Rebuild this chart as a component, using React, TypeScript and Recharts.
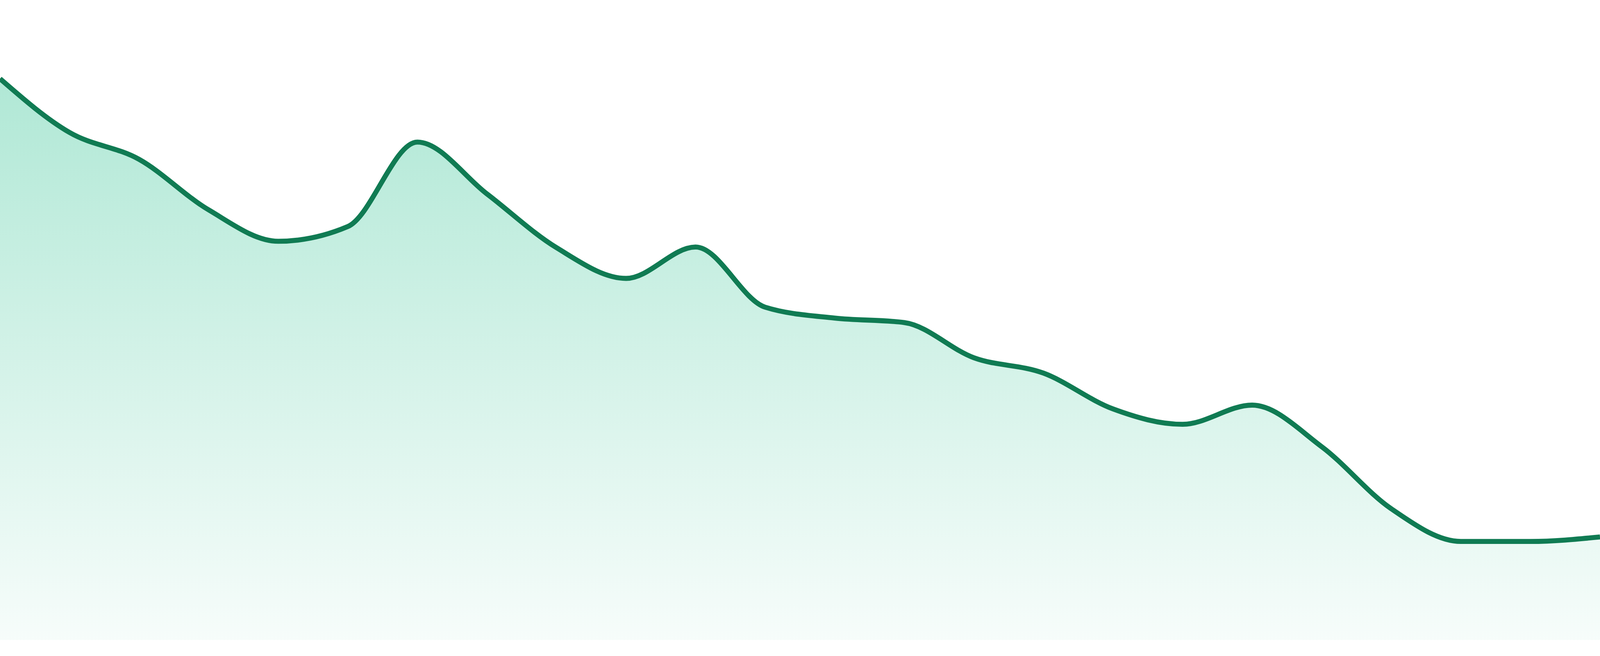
import { AreaChart, Area, XAxis, YAxis } from "recharts";

// 24 evenly spaced samples, values on a 0-100 scale
const points = [
  "p01", "p02", "p03", "p04", "p05", "p06", "p07", "p08",
  "p09", "p10", "p11", "p12", "p13", "p14", "p15", "p16",
  "p17", "p18", "p19", "p20", "p21", "p22", "p23", "p24",
];
const values = [
  87.7, 79.3, 75.1, 67.2, 62.3, 64.6, 77.8, 69.7,
  61.3, 56.5, 61.4, 52.0, 50.3, 49.6, 44.1, 41.7,
  36.1, 33.7, 36.7, 30.2, 20.5, 15.4, 15.4, 16.1,
];

const data = points.map((p, i) => ({ p, v: values[i] }));

// the chart fills the visible page; sizes below are given for a 4800px wide frame
const W = Math.round(window.innerWidth || 4800);
const H = Math.round(window.innerHeight || 1680);
const k = W / 4800;

export default function App() {
  return (
    <div style={{ width: W, height: H, background: "#fff", overflow: "hidden" }}>
      <style>{"html,body{margin:0;padding:0;background:#fff;overflow:hidden}"}</style>
      <AreaChart width={W} height={H} data={data} margin={{ top: 0, right: 0, bottom: 48 * k, left: 0 }}>
        <defs>
          <linearGradient id="greenFade" x1="0" y1="0" x2="0" y2="1">
            <stop offset="0%" stopColor="#10b981" stopOpacity={0.33} />
            <stop offset="100%" stopColor="#10b981" stopOpacity={0.035} />
          </linearGradient>
        </defs>
        <XAxis dataKey="p" hide />
        <YAxis domain={[0, 100]} hide />
        <Area
          type="monotone"
          dataKey="v"
          stroke="#107b53"
          strokeWidth={15 * k}
          fill="url(#greenFade)"
          fillOpacity={1}
          dot={false}
          activeDot={false}
          isAnimationActive={false}
        />
      </AreaChart>
    </div>
  );
}
